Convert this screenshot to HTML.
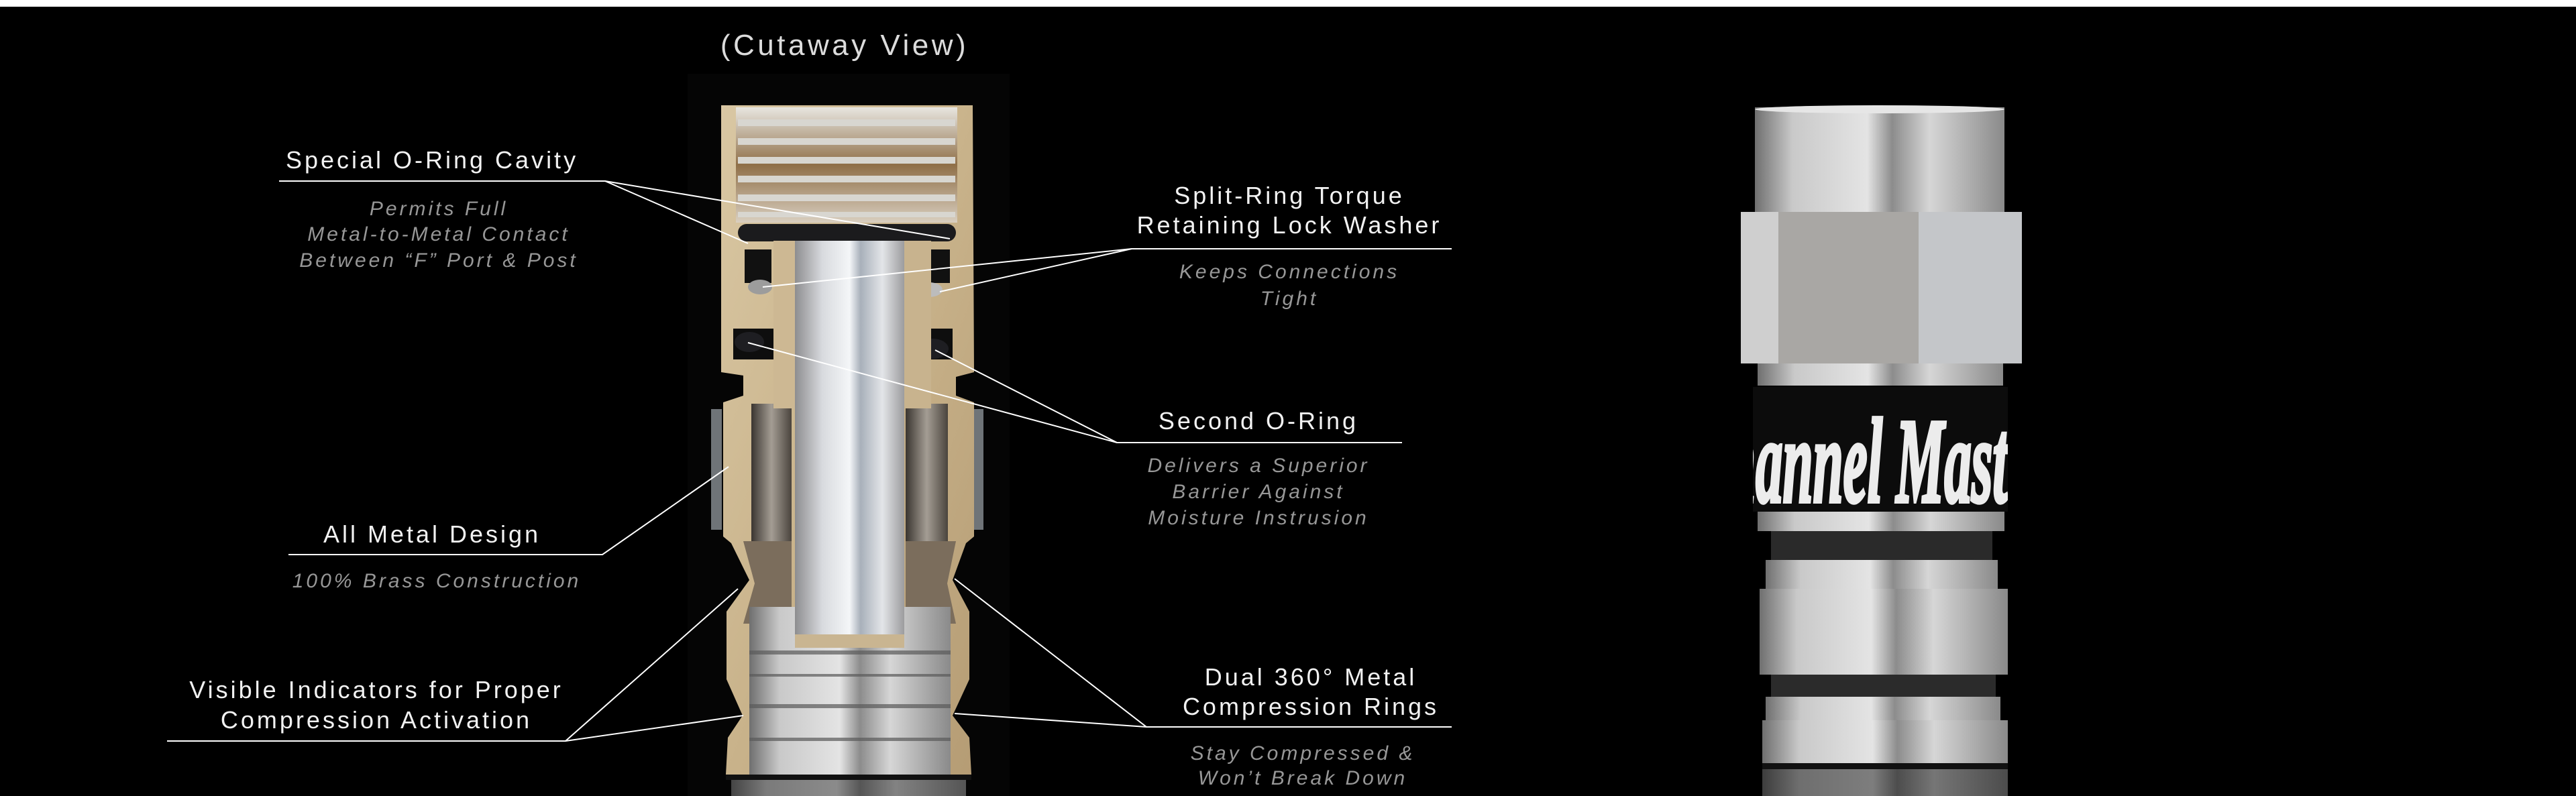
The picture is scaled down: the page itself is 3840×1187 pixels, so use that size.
<!DOCTYPE html>
<html><head><meta charset="utf-8"><style>
html,body{margin:0;padding:0;background:#000;}
svg{display:block;}
.h{font-family:"Liberation Sans",sans-serif;font-size:36px;letter-spacing:4px;fill:#f2f2f2;text-anchor:middle;}
.s{font-family:"Liberation Sans",sans-serif;font-size:30px;letter-spacing:4px;fill:#979797;font-style:italic;text-anchor:middle;}
</style></head><body>
<svg width="3840" height="1187" viewBox="0 0 3840 1187" xmlns="http://www.w3.org/2000/svg">
<defs>
<linearGradient id="brass" x1="0" y1="0" x2="1" y2="1">
<stop offset="0" stop-color="#d9c7a3"/><stop offset="0.5" stop-color="#c9b38b"/><stop offset="1" stop-color="#b59c74"/></linearGradient>
<linearGradient id="pin" x1="0" x2="1" y1="0" y2="0">
<stop offset="0" stop-color="#8d8d8f"/><stop offset="0.25" stop-color="#d8dade"/><stop offset="0.5" stop-color="#f4f6f8"/><stop offset="0.6" stop-color="#a8b0ba"/><stop offset="0.8" stop-color="#e3e5e8"/><stop offset="1" stop-color="#9c9c9e"/></linearGradient>
<linearGradient id="silv" x1="0" x2="1" y1="0" y2="0">
<stop offset="0" stop-color="#6f6f6f"/><stop offset="0.15" stop-color="#c9c9c9"/><stop offset="0.45" stop-color="#e4e4e4"/><stop offset="0.55" stop-color="#8c8c8c"/><stop offset="0.7" stop-color="#d6d6d6"/><stop offset="1" stop-color="#8a8a8a"/></linearGradient>
<linearGradient id="thr" x1="0" x2="0" y1="0" y2="1">
<stop offset="0" stop-color="#e8e6e0"/><stop offset="0.5" stop-color="#8f6f48"/><stop offset="1" stop-color="#d9cfc0"/></linearGradient>
<linearGradient id="cav" x1="0" x2="1" y1="0" y2="0">
<stop offset="0" stop-color="#3a3530"/><stop offset="0.5" stop-color="#a49d94"/><stop offset="1" stop-color="#4a443d"/></linearGradient>
<clipPath id="band"><rect x="2613" y="577" width="380" height="186"/></clipPath>
</defs>
<rect width="3840" height="1187" fill="#000"/>
<rect width="3840" height="10" fill="#fff"/>
<rect x="1025" y="110" width="480" height="1077" fill="#050505"/>

<path fill="url(#brass)" d="M1075 157 L1450 157 L1452 555 L1425 562 L1425 590 L1452 600 L1452 800 L1440 810 L1420 865 L1445 912 L1445 1013 L1420 1067 L1445 1100 L1448 1155 L1082 1155 L1085 1100 L1107 1067 L1083 1013 L1083 912 L1117 865 L1090 810 L1078 800 L1078 600 L1108 590 L1108 560 L1075 555 Z"/>
<rect x="1060" y="610" width="16" height="180" fill="#6f7478"/>
<rect x="1452" y="610" width="14" height="180" fill="#6f7478"/>
<rect x="1097" y="160" width="330" height="172" fill="url(#thr)"/>
<g fill="#d8d6d0">
<rect x="1100" y="178" width="324" height="10"/><rect x="1100" y="206" width="324" height="10"/><rect x="1100" y="234" width="324" height="10"/><rect x="1100" y="262" width="324" height="10"/><rect x="1100" y="290" width="324" height="10"/><rect x="1100" y="316" width="324" height="8"/></g>
<rect x="1100" y="334" width="325" height="26" rx="13" fill="#1b1b1d"/>
<rect x="1110" y="372" width="40" height="50" fill="#111"/>
<rect x="1380" y="372" width="36" height="50" fill="#111"/>
<ellipse cx="1133" cy="428" rx="18" ry="11" fill="#9c9c9c"/>
<ellipse cx="1385" cy="432" rx="20" ry="11" fill="#bcbcbc"/>
<rect x="1093" y="490" width="60" height="46" fill="#0e0e0e"/>
<rect x="1360" y="490" width="60" height="46" fill="#0e0e0e"/>
<ellipse cx="1117" cy="510" rx="22" ry="15" fill="#1e1e22"/>
<ellipse cx="1390" cy="520" rx="24" ry="15" fill="#1e1e22"/>
<rect x="1120" y="602" width="60" height="205" fill="url(#cav)"/>
<rect x="1350" y="602" width="63" height="205" fill="url(#cav)"/>
<path d="M1108 807 L1180 807 L1180 930 L1108 930 L1125 870 Z" fill="#7b6d5c"/>
<path d="M1350 807 L1425 807 L1412 870 L1425 930 L1350 930 Z" fill="#7b6d5c"/>
<rect x="1117" y="905" width="300" height="250" fill="url(#silv)"/>
<g fill="#5a5a5a" opacity="0.7"><rect x="1117" y="970" width="300" height="6"/><rect x="1117" y="1005" width="300" height="4"/><rect x="1117" y="1050" width="300" height="6"/><rect x="1117" y="1100" width="300" height="5"/></g>
<rect x="1082" y="1155" width="366" height="8" fill="#111"/>
<rect x="1090" y="1163" width="350" height="24" fill="url(#silv)" opacity="0.6"/>
<rect x="1153" y="359" width="32" height="250" fill="#cdb893"/>
<rect x="1348" y="359" width="40" height="250" fill="#c8b38e"/>
<rect x="1185" y="359" width="163" height="607" fill="url(#pin)"/>
<rect x="1185" y="946" width="163" height="20" fill="#c9b591"/>

<g stroke="#fff" stroke-width="2" fill="none">
<polyline points="416,270 902,270 1115,363"/><line x1="902" y1="270" x2="1416" y2="356"/>
<polyline points="2164,371 1687,371 1137,428"/><line x1="1687" y1="371" x2="1401" y2="435"/>
<polyline points="2090,660 1665,660 1115,511"/><line x1="1665" y1="660" x2="1394" y2="522"/>
<polyline points="430,827 898,827 1086,696"/>
<polyline points="249,1105 843,1105 1100,878"/><line x1="843" y1="1105" x2="1108" y2="1067"/>
<polyline points="2164,1084 1709,1084 1423,863"/><line x1="1709" y1="1084" x2="1423" y2="1064"/>
</g>

<text x="1259" y="82" font-family="Liberation Sans, sans-serif" font-size="44" letter-spacing="4.5" fill="#dcdcdc" text-anchor="middle">(Cutaway View)</text>
<text class="h" x="644" y="251">Special O-Ring Cavity</text>
<text class="s" x="654" y="321">Permits Full</text>
<text class="s" x="654" y="359">Metal-to-Metal Contact</text>
<text class="s" x="654" y="398">Between “F” Port &amp; Post</text>
<text class="h" x="1922" y="304">Split-Ring Torque</text>
<text class="h" x="1922" y="348">Retaining Lock Washer</text>
<text class="s" x="1922" y="415">Keeps Connections</text>
<text class="s" x="1922" y="455">Tight</text>
<text class="h" x="1876" y="640">Second O-Ring</text>
<text class="s" x="1876" y="704">Delivers a Superior</text>
<text class="s" x="1876" y="743">Barrier Against</text>
<text class="s" x="1876" y="782">Moisture Instrusion</text>
<text class="h" x="644" y="809">All Metal Design</text>
<text class="s" x="651" y="876">100% Brass Construction</text>
<text class="h" x="561" y="1041">Visible Indicators for Proper</text>
<text class="h" x="561" y="1086">Compression Activation</text>
<text class="h" x="1954" y="1022">Dual 360° Metal</text>
<text class="h" x="1954" y="1066">Compression Rings</text>
<text class="s" x="1942" y="1133">Stay Compressed &amp;</text>
<text class="s" x="1942" y="1170">Won’t Break Down</text>

<rect x="2616" y="160" width="372" height="158" fill="url(#silv)"/>
<ellipse cx="2802" cy="163" rx="186" ry="6" fill="#e6e6e6"/>
<rect x="2595" y="316" width="56" height="226" fill="#cfcfcf"/>
<rect x="2651" y="316" width="209" height="226" fill="#a9a7a4"/>
<rect x="2860" y="316" width="154" height="226" fill="#c4c6c9"/>
<rect x="2620" y="542" width="366" height="33" fill="url(#silv)"/>
<rect x="2613" y="577" width="380" height="186" fill="#0c0c0c"/>
<g clip-path="url(#band)">
<text transform="translate(2518,748) scale(0.45,1)" font-family="Liberation Serif, serif" font-weight="bold" font-style="italic" font-size="180" fill="#ececec" stroke="#ececec" stroke-width="6">Channel Master</text>
</g>
<rect x="2620" y="763" width="368" height="29" fill="url(#silv)"/>
<rect x="2640" y="792" width="330" height="43" fill="#2a2a2a"/>
<rect x="2632" y="835" width="346" height="43" fill="url(#silv)"/>
<rect x="2623" y="878" width="370" height="128" fill="url(#silv)"/>
<rect x="2640" y="1006" width="335" height="33" fill="#2b2b2b"/>
<rect x="2632" y="1039" width="350" height="35" fill="url(#silv)"/>
<rect x="2627" y="1074" width="366" height="64" fill="url(#silv)"/>
<rect x="2627" y="1138" width="366" height="9" fill="#111"/>
<rect x="2627" y="1147" width="366" height="40" fill="url(#silv)" opacity="0.55"/>
</svg>
</body></html>
